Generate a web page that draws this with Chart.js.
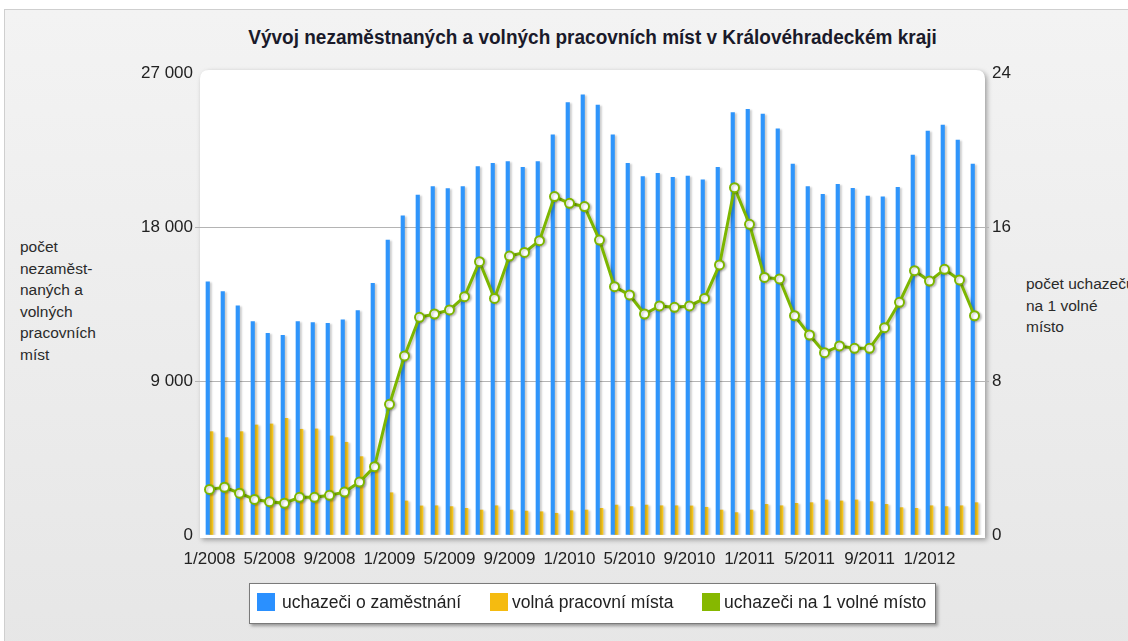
<!DOCTYPE html>
<html lang="cs">
<head>
<meta charset="utf-8">
<script src="https://cdn.jsdelivr.net/npm/chart.js@4.4.1/dist/chart.umd.min.js"></script>
<style>
  html, body { margin: 0; padding: 0; width: 1128px; height: 641px; overflow: hidden; background: #ffffff; font-family: "Liberation Sans", Arial, sans-serif; }
  #panel { position: absolute; left: 4px; top: 9px; width: 1140px; height: 650px; background: linear-gradient(#f3f3f3, #e6e6e6); border: 1px solid #cfcfcf; }
  #title { position: absolute; left: 0; width: 1185px; top: 27px; text-align: center; font-weight: bold; font-size: 19px; color: #1a1a2a; transform: scaleY(1.08); }
  .atitle { position: absolute; font-size: 15.5px; line-height: 21.5px; color: #2a2a2a; white-space: nowrap; }
  #ltitle { left: 20px; top: 236px; }
  #rtitle { left: 1026px; top: 273px; }
  #chart { position: absolute; left: 0; top: 0; }
  #legend { position: absolute; left: 249px; top: 583px; width: 685px; height: 39px; background: #fff; border: 1px solid #7a7a7a; box-shadow: 2px 2px 3px rgba(0,0,0,0.35); font-size: 17.5px; color: #222; }
  .li { position: absolute; top: 9px; white-space: nowrap; line-height: 20px; }
  .sw { position: absolute; top: 0px; width: 18px; height: 18px; }
  .tx { position: absolute; top: -1px; white-space: nowrap; }
</style>
</head>
<body>
<div id="panel"></div>
<div id="title">Vývoj nezaměstnaných a volných pracovních míst v Královéhradeckém kraji</div>
<div class="atitle" id="ltitle">počet<br>nezaměst-<br>naných a<br>volných<br>pracovních<br>míst</div>
<div class="atitle" id="rtitle">počet uchazečů<br>na 1 volné<br>místo</div>
<canvas id="chart" width="1128" height="641"></canvas>
<div id="legend">
  <span class="li" style="left:7px"><span class="sw" style="left:0;background:#2a90ff"></span><span class="tx" style="left:25px">uchazeči o zaměstnání</span></span>
  <span class="li" style="left:240px"><span class="sw" style="left:0;background:#f5bb10"></span><span class="tx" style="left:22px">volná pracovní místa</span></span>
  <span class="li" style="left:452px"><span class="sw" style="left:0;background:#86b800"></span><span class="tx" style="left:22px">uchazeči na 1 volné místo</span></span>
</div>
<script>
// Months 1/2008 .. 4/2012
const months = [
  "1/2008","2/2008","3/2008","4/2008","5/2008","6/2008","7/2008","8/2008","9/2008","10/2008","11/2008","12/2008",
  "1/2009","2/2009","3/2009","4/2009","5/2009","6/2009","7/2009","8/2009","9/2009","10/2009","11/2009","12/2009",
  "1/2010","2/2010","3/2010","4/2010","5/2010","6/2010","7/2010","8/2010","9/2010","10/2010","11/2010","12/2010",
  "1/2011","2/2011","3/2011","4/2011","5/2011","6/2011","7/2011","8/2011","9/2011","10/2011","11/2011","12/2011",
  "1/2012","2/2012","3/2012","4/2012"
];
// uchazeči o zaměstnání
const applicants = [
  14800,14220,13400,12470,11790,11670,12470,12410,12370,12570,13110,14710,
  17240,18660,19870,20360,20240,20360,21530,21720,21820,21490,21820,23380,
  25270,25720,25130,23380,21720,20940,21140,20900,20980,20750,21490,24680,
  24880,24600,23730,21680,20360,19910,20490,20260,19810,19770,20320,22210,
  23610,23960,23080,21680
];
// volná pracovní místa
const vacancies = [
  6040,5690,6040,6430,6490,6820,6180,6200,5790,5420,4580,4230,
  2470,1990,1700,1710,1660,1560,1460,1710,1460,1400,1360,1270,
  1420,1460,1560,1750,1660,1750,1710,1710,1700,1620,1460,1310,
  1460,1790,1710,1850,1890,2050,1990,2050,1950,1790,1600,1560,
  1710,1660,1710,1890
];
// uchazeči na 1 volné místo
const ratio = [
  2.37,2.48,2.17,1.85,1.73,1.65,1.96,1.96,2.06,2.23,2.75,3.55,
  6.79,9.30,11.31,11.48,11.69,12.38,14.20,12.29,14.49,14.68,15.29,17.58,
  17.23,17.06,15.32,12.90,12.47,11.48,11.90,11.83,11.90,12.29,14.03,18.04,
  16.14,13.38,13.30,11.39,10.39,9.47,9.82,9.70,9.70,10.77,12.09,13.73,
  13.19,13.80,13.25,11.39
];
const leftTicks = [0, 9000, 18000, 27000];
const rightTicks = [0, 8, 16, 24];

const fmt = v => String(v).replace(/\B(?=(\d{3})+(?!\d))/g, " ");

const plotBox = {
  id: "plotBox",
  beforeDraw(chart) {
    const a = chart.chartArea, c = chart.ctx;
    const x = a.left - 2, y = a.top - 3, w = a.right - a.left + 5, h = a.bottom - a.top + 6, r = 9;
    c.save();
    c.shadowColor = "rgba(0,0,0,0.35)";
    c.shadowBlur = 5; c.shadowOffsetX = 2; c.shadowOffsetY = 2;
    c.fillStyle = "#ffffff";
    c.beginPath();
    c.moveTo(x + r, y); c.lineTo(x + w - r, y); c.quadraticCurveTo(x + w, y, x + w, y + r);
    c.lineTo(x + w, y + h); c.lineTo(x, y + h); c.lineTo(x, y + r); c.quadraticCurveTo(x, y, x + r, y);
    c.closePath(); c.fill();
    c.restore();
  },
  beforeDatasetDraw(chart, args) {
    const c = chart.ctx;
    c.save();
    c.shadowColor = "rgba(0,0,0,0.2)";
    c.shadowBlur = 2; c.shadowOffsetX = 2; c.shadowOffsetY = 1;
  },
  afterDatasetDraw(chart) { chart.ctx.restore(); }
};

const gridColor = ctx => (ctx.tick && (ctx.tick.value === 0 || ctx.tick.value === 27000 || ctx.tick.value === 24)) ? "rgba(0,0,0,0)" : "#b4b4b4";

new Chart(document.getElementById("chart"), {
  data: {
    labels: months,
    datasets: [
      { type: "line", label: "uchazeči na 1 volné místo", data: ratio, yAxisID: "y1", order: 0,
        borderColor: "#7db600", borderWidth: 3, pointRadius: 4.5, pointBorderWidth: 2,
        pointBackgroundColor: "#ffffff", pointBorderColor: "#7db600", tension: 0 },
      { type: "bar", label: "uchazeči o zaměstnání", data: applicants, yAxisID: "y", order: 1,
        backgroundColor: "#2f95fb", barThickness: 3.5, categoryPercentage: 0.8, barPercentage: 1 },
      { type: "bar", label: "volná pracovní místa", data: vacancies, yAxisID: "y", order: 2,
        backgroundColor: "#ffcd1e", barThickness: 3.5, categoryPercentage: 0.8, barPercentage: 1 }
    ]
  },
  options: {
    responsive: false,
    animation: false,
    layout: { padding: { top: 73, bottom: 0, left: 0, right: 0 } },
    plugins: { legend: { display: false }, tooltip: { enabled: false }, title: { display: false } },
    scales: {
      x: {
        offset: true,
        grid: { display: false },
        border: { display: false },
        ticks: {
          autoSkip: false, maxRotation: 0, minRotation: 0, padding: 6,
          color: "#222", font: { family: "Liberation Sans", size: 17 },
          callback: function (v, i) { return i % 4 === 0 ? months[i] : ""; }
        },
        afterFit: s => { s.height = 106; }
      },
      y: {
        position: "left", min: 0, max: 27000,
        afterBuildTicks: s => { s.ticks = leftTicks.map(v => ({ value: v })); },
        grid: { color: gridColor, tickLength: 7, drawTicks: true },
        border: { display: false },
        ticks: { padding: 2, color: "#222", font: { family: "Liberation Sans", size: 17 }, callback: v => fmt(v) },
        afterFit: s => { s.width = 202; }
      },
      y1: {
        position: "right", min: 0, max: 24,
        afterBuildTicks: s => { s.ticks = rightTicks.map(v => ({ value: v })); },
        grid: { drawOnChartArea: false, color: gridColor, tickLength: 7, drawTicks: true },
        border: { display: false },
        ticks: { padding: 3, color: "#222", font: { family: "Liberation Sans", size: 17 } },
        afterFit: s => { s.width = 146; }
      }
    }
  },
  plugins: [plotBox]
});
</script>
</body>
</html>
